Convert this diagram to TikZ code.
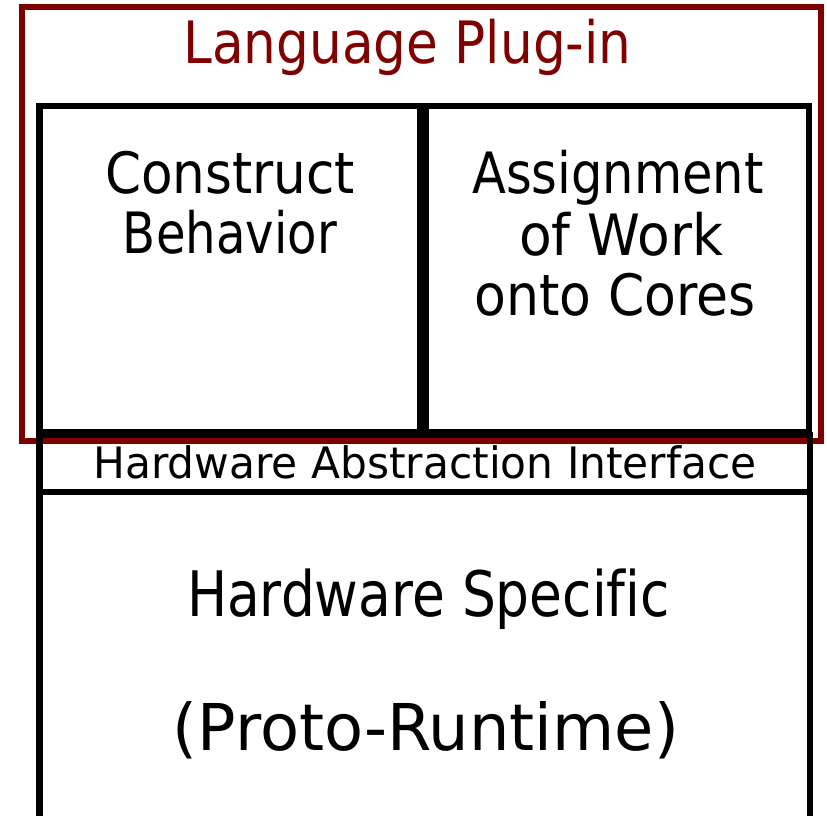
\documentclass[tikz,border=0pt]{standalone}
\usepackage{fontspec}
\setmainfont[Ligatures=NoCommon]{DejaVu Sans}
\usepackage{graphicx}
\definecolor{plugred}{HTML}{800000}
\newcommand\fitw[2]{\resizebox{#1pt}{\height}{#2}}
\begin{document}
\begin{tikzpicture}[x=1pt,y=-1pt,
  frame/.style={draw=black, line width=6.5pt, rectangle, inner sep=0pt, outer sep=0pt, anchor=north west},
  redframe/.style={draw=plugred, line width=6pt, rectangle, inner sep=0pt, outer sep=0pt, anchor=north west},
  lbl/.style={inner sep=0pt, outer sep=0pt, anchor=base}]
\useasboundingbox (0,0) rectangle (827,815);
% red language plug-in frame
\node[redframe, minimum width=799.3pt, minimum height=433.5pt] (plugin) at (21.5,7) {};
% upper boxes
\node[frame, minimum width=381pt, minimum height=326.5pt] (cbox) at (39.5,106) {};
\node[frame, minimum width=383pt, minimum height=326.5pt] (abox) at (426,106) {};
% hardware abstraction interface
\node[frame, minimum width=770.5pt, minimum height=57pt] (hai) at (39.5,435) {};
% open bottom box
\coordinate (bl) at (39.5,820);
\coordinate (br) at (810,820);
\draw[line width=6.5pt] (hai.south west) -- (bl);
\draw[line width=6.5pt] (hai.south east) -- (br);
% texts
\node[lbl, text=plugred, font=\fontsize{58.4}{60}\selectfont] (title) at (407.5,63.3) {\fitw{448}{Language Plug-in}};
\node[lbl, font=\fontsize{57}{60}\selectfont] (cb1) at (230,193.3) {\fitw{250}{Construct}};
\node[lbl, font=\fontsize{57}{60}\selectfont] (cb2) at (230,253.3) {\fitw{214}{Behavior}};
\node[lbl, font=\fontsize{57}{60}\selectfont] (aw1) at (618,193.3) {\fitw{291.5}{Assignment}};
\node[lbl, font=\fontsize{57}{60}\selectfont] (aw2) at (621,255) {\fitw{204}{of Work}};
\node[lbl, font=\fontsize{57}{60}\selectfont] (aw3) at (615,315) {\fitw{281}{onto Cores}};
\node[lbl, font=\fontsize{43.3}{45}\selectfont] (haitext) at (425,478.3) {\fitw{663}{Hardware Abstraction Interface}};
\node[lbl, font=\fontsize{62.7}{65}\selectfont] (hs) at (428.5,616.7) {\fitw{483}{Hardware Specific}};
\node[lbl, font=\fontsize{64.5}{67}\selectfont] (pr) at (425.9,750) {\fitw{506}{(Proto-Runtime)}};
\end{tikzpicture}
\end{document}
